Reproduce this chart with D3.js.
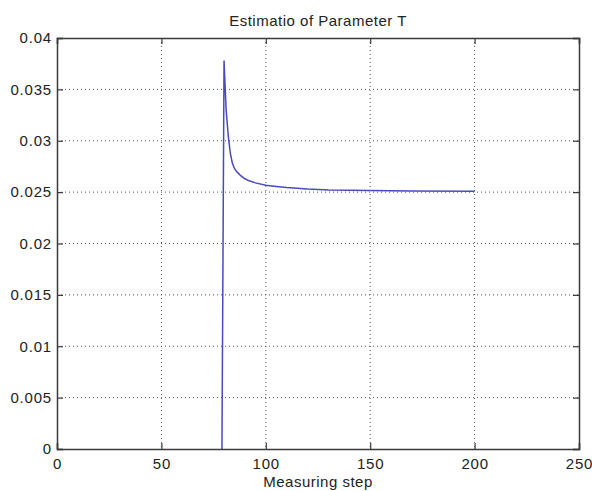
<!DOCTYPE html>
<html>
<head>
<meta charset="utf-8">
<script src="https://cdn.jsdelivr.net/npm/d3@7"></script>
<style>
  body { margin: 0; background: #fff; }
  text { font-family: "Liberation Sans", Arial, sans-serif; fill: #222; }
</style>
</head>
<body>
<div class="chart"></div>
<script>
// data
let steps  = [79, 80, 81, 82, 83, 84, 85, 86, 87, 88, 90, 92, 95, 100, 105, 110, 120, 130, 150, 170, 200];
let values = [0, 0.0378, 0.0330, 0.0305, 0.0288, 0.0278, 0.0273, 0.0270, 0.0268, 0.0266, 0.0263,
              0.0261, 0.0259, 0.02566, 0.02555, 0.02545, 0.0253, 0.0252, 0.02516, 0.0251, 0.02508];
let xTicks = [0, 50, 100, 150, 200, 250];
let yTicks = [0, 0.005, 0.01, 0.015, 0.02, 0.025, 0.03, 0.035, 0.04];
let yTickLabels = ["0", "0.005", "0.01", "0.015", "0.02", "0.025", "0.03", "0.035", "0.04"];

let margin = {top: 38, right: 13, bottom: 42, left: 57},
    width = 592 - margin.left - margin.right,
    height = 491 - margin.top - margin.bottom;

let svg = d3.select(".chart")
  .append("svg")
    .attr("width", 592)
    .attr("height", 491);

let g = svg.append("g")
  .attr("transform", "translate(" + margin.left + "," + margin.top + ")");

let xScale = d3.scaleLinear().domain([0, 250]).range([0, width]);
let yScale = d3.scaleLinear().domain([0, 0.04]).range([height, 0]);

// dotted grid
g.selectAll(".vgrid").data(xTicks.slice(1, -1)).enter()
  .append("line")
    .attr("x1", d => xScale(d)).attr("x2", d => xScale(d))
    .attr("y1", 0).attr("y2", height)
    .attr("stroke", "#555").attr("stroke-width", 1)
    .attr("stroke-dasharray", "1,3");

g.selectAll(".hgrid").data(yTicks.slice(1, -1)).enter()
  .append("line")
    .attr("y1", d => yScale(d)).attr("y2", d => yScale(d))
    .attr("x1", 0).attr("x2", width)
    .attr("stroke", "#555").attr("stroke-width", 1)
    .attr("stroke-dasharray", "1,3");

// the estimate curve
let line = d3.line()
  .x((d, i) => xScale(steps[i]))
  .y(d => yScale(d));

g.append("path")
  .datum(values)
  .attr("d", line)
  .attr("fill", "none")
  .attr("stroke", "#4a4abf")
  .attr("stroke-width", 1.5);

// axes, ticks pointing inward like matlab
let tickLen = 6;
let xAxis = d3.axisBottom(xScale).tickValues(xTicks).tickSize(-tickLen).tickPadding(9);
let xAxisGroup = g.append("g").attr("class", "xaxis")
  .attr("transform", "translate(0," + height + ")")
  .call(xAxis);

let xTop = g.append("g").call(d3.axisTop(xScale).tickValues(xTicks).tickSize(-tickLen).tickFormat(""));

let yAxis = d3.axisLeft(yScale).tickValues(yTicks).tickSize(-tickLen).tickPadding(5)
  .tickFormat((d, i) => yTickLabels[i]);
let yAxisGroup = g.append("g").attr("class", "yaxis").call(yAxis);

let yRight = g.append("g")
  .attr("transform", "translate(" + width + ",0)")
  .call(d3.axisRight(yScale).tickValues(yTicks).tickSize(-tickLen).tickFormat(""));

g.selectAll(".domain").attr("stroke", "#3a3a3a").attr("stroke-width", 1.5);
g.selectAll(".tick line").attr("stroke", "#3a3a3a").attr("stroke-width", 1.2);
g.selectAll(".tick text")
  .style("font-size", "15px")
  .style("letter-spacing", "0.8px")
  .attr("fill", "#222");

// titles
svg.append("text")
  .attr("x", margin.left + width / 2)
  .attr("y", 26)
  .attr("text-anchor", "middle")
  .style("font-size", "15px")
  .style("letter-spacing", "0.5px")
  .text("Estimatio of Parameter T");

svg.append("text")
  .attr("x", margin.left + width / 2)
  .attr("y", 487)
  .attr("text-anchor", "middle")
  .style("font-size", "15px")
  .style("letter-spacing", "0.5px")
  .text("Measuring step");
</script>
</body>
</html>
